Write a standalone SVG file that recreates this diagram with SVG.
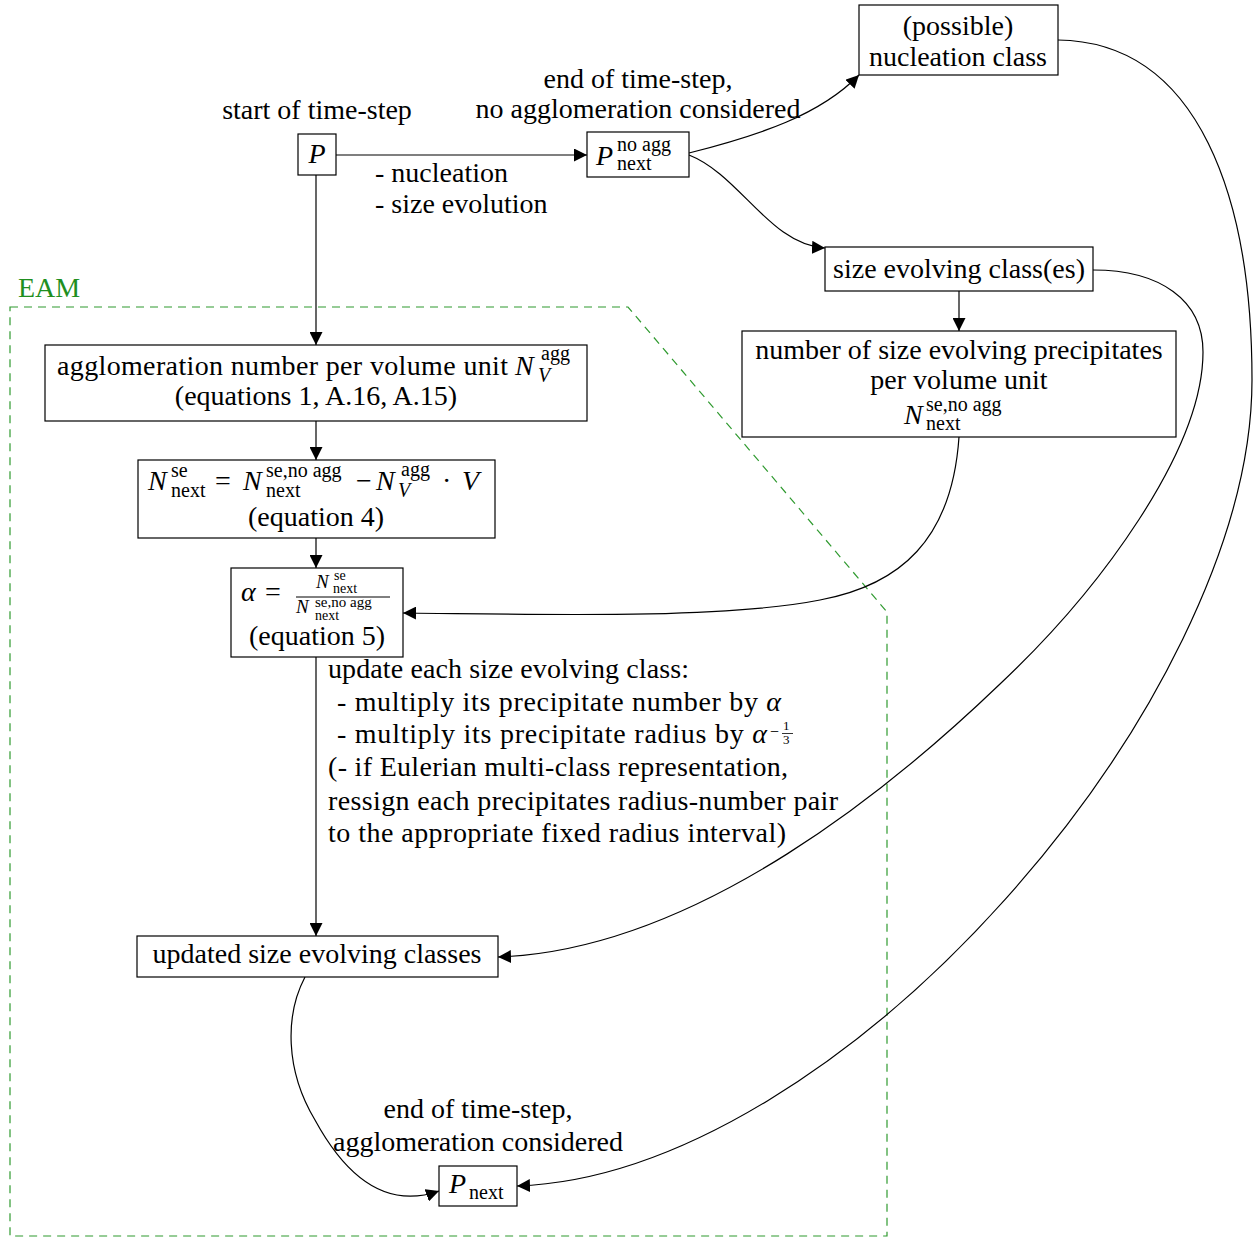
<svg xmlns="http://www.w3.org/2000/svg" width="1253" height="1245" viewBox="0 0 1253 1245">
<defs>
<style>
text{font-family:"Liberation Serif","Times New Roman",serif;fill:#000}
.t{font-size:28px}
.m{font-size:28px;font-style:italic}
.s{font-size:20px}
.si{font-size:20px;font-style:italic}
.fm{font-size:19px;font-style:italic}
.ss{font-size:14px}
.sd{font-size:15px}
.c{text-anchor:middle}
.box{fill:#fff;stroke:#000;stroke-width:1.2}
.edge{fill:none;stroke:#000;stroke-width:1.2}
.eam{fill:none;stroke:#2f9a2f;stroke-width:1.2;stroke-dasharray:8 6}
</style>
<marker id="ah" viewBox="0 0 13 13" markerWidth="13" markerHeight="13" refX="13" refY="6.5" orient="auto" markerUnits="userSpaceOnUse"><path d="M0,0 L13,6.5 L0,13 z" fill="#000"/></marker>
</defs>
<rect x="0" y="0" width="1253" height="1245" fill="#fff"/>

<g id="eam">
<path class="eam" d="M10,307 L628,307 L887,612 L887,1236 L10,1236 Z"/>
<text x="18" y="297" class="t" style="fill:#1f8f1f">EAM</text>
</g>

<g id="connectors">
<path class="edge" d="M336,155 L587,155" marker-end="url(#ah)"/>
<path class="edge" d="M316,175 L316,345" marker-end="url(#ah)"/>
<path class="edge" d="M316,421 L316,460" marker-end="url(#ah)"/>
<path class="edge" d="M316,538 L316,568" marker-end="url(#ah)"/>
<path class="edge" d="M316,657 L316,936" marker-end="url(#ah)"/>
<path class="edge" d="M689,153 C760,135 820,115 859,75" marker-end="url(#ah)"/>
<path class="edge" d="M689,155 C740,175 770,245 825,248" marker-end="url(#ah)"/>
<path class="edge" d="M959,291 L959,331" marker-end="url(#ah)"/>
<path class="edge" d="M959,437 C952,540 900,585 820,600 C720,620 520,614 403,613" marker-end="url(#ah)"/>
<path class="edge" d="M1093,270 C1160,270 1203,300 1203,352 C1203,450 1100,590 1000,684 C900,780 700,950 498,957" marker-end="url(#ah)"/>
<path class="edge" d="M1058,40 C1200,42 1252,200 1252,380 C1252,700 840,1175 517,1186" marker-end="url(#ah)"/>
<path class="edge" d="M305,977 C285,1015 285,1070 315,1120 C345,1175 385,1210 439,1191" marker-end="url(#ah)"/>
<text x="375" y="182" class="t">- nucleation</text>
<text x="375" y="213" class="t">- size evolution</text>
<text x="328" y="678" class="t" textLength="361">update each size evolving class:</text>
<text x="337" y="711" class="t" textLength="444"> - multiply its precipitate number by <tspan class="m">α</tspan></text>
<text x="337" y="743" class="t" textLength="430"> - multiply its precipitate radius by <tspan class="m">α</tspan></text>
<text x="770" y="737" style="font-size:16px">−</text>
<text x="783" y="730" style="font-size:13px">1</text>
<line x1="782" y1="733.5" x2="793" y2="733.5" stroke="#000" stroke-width="0.8"/>
<text x="783" y="744" style="font-size:13px">3</text>
<text x="328" y="776" class="t" textLength="460">(- if Eulerian multi-class representation,</text>
<text x="328" y="810" class="t" textLength="510">ressign each precipitates radius-number pair</text>
<text x="328" y="842" class="t" textLength="458">to the appropriate fixed radius interval)</text>
</g>

<g id="node-P">
<text x="317" y="119" class="t c">start of time-step</text>
<rect class="box" x="298" y="134" width="38" height="41"/>
<text x="317" y="163" class="m c">P</text>
</g>

<g id="node-Pnoagg">
<text x="638" y="88" class="t c">end of time-step,</text>
<text x="638" y="118" class="t c">no agglomeration considered</text>
<rect class="box" x="587" y="132" width="102" height="45"/>
<text x="596" y="165" class="m">P</text>
<text x="617" y="151" class="s">no agg</text>
<text x="617" y="170" class="s">next</text>
</g>

<g id="node-nucleation">
<rect class="box" x="859" y="5" width="199" height="70"/>
<text x="958" y="35" class="t c">(possible)</text>
<text x="958" y="66" class="t c">nucleation class</text>
</g>

<g id="node-se">
<rect class="box" x="825" y="247" width="268" height="44"/>
<text x="959" y="278" class="t c">size evolving class(es)</text>
</g>

<g id="node-number">
<rect class="box" x="742" y="331" width="434" height="106"/>
<text x="959" y="359" class="t c">number of size evolving precipitates</text>
<text x="959" y="389" class="t c">per volume unit</text>
<text x="904" y="424" class="m">N</text>
<text x="926" y="411" class="s">se,no agg</text>
<text x="926" y="430" class="s">next</text>
</g>

<g id="node-agg">
<rect class="box" x="45" y="345" width="542" height="76"/>
<text x="57" y="375" class="t" textLength="451">agglomeration number per volume unit</text>
<text x="515" y="375" class="m">N</text>
<text x="541" y="360" class="s">agg</text>
<text x="538" y="382" class="si">V</text>
<text x="316" y="405" class="t c">(equations 1, A.16, A.15)</text>
</g>

<g id="node-eq4">
<rect class="box" x="138" y="460" width="357" height="78"/>
<text x="148" y="490" class="m">N</text>
<text x="171" y="477" class="s">se</text>
<text x="171" y="497" class="s">next</text>
<text x="215" y="490" class="t">=</text>
<text x="243" y="490" class="m">N</text>
<text x="266" y="477" class="s">se,no agg</text>
<text x="266" y="497" class="s">next</text>
<text x="356" y="490" class="t">−</text>
<text x="376" y="490" class="m">N</text>
<text x="401" y="476" class="s">agg</text>
<text x="398" y="497" class="si">V</text>
<text x="442" y="490" class="t">·</text>
<text x="462" y="490" class="m">V</text>
<text x="316" y="526" class="t c">(equation 4)</text>
</g>

<g id="node-alpha">
<rect class="box" x="231" y="568" width="172" height="89"/>
<text x="241" y="601" class="m">α</text>
<text x="265" y="601" class="t">=</text>
<line x1="296" y1="597" x2="390" y2="597" stroke="#000" stroke-width="1"/>
<text x="316" y="588" class="fm">N</text>
<text x="334" y="580" class="ss">se</text>
<text x="333" y="593" class="ss">next</text>
<text x="296" y="613" class="fm">N</text>
<text x="315" y="607" class="sd">se,no agg</text>
<text x="315" y="620" class="ss">next</text>
<text x="317" y="645" class="t c">(equation 5)</text>
</g>

<g id="node-updated">
<rect class="box" x="137" y="936" width="361" height="41"/>
<text x="317" y="963" class="t c">updated size evolving classes</text>
</g>

<g id="node-Pnext">
<text x="478" y="1118" class="t c">end of time-step,</text>
<text x="478" y="1151" class="t c">agglomeration considered</text>
<rect class="box" x="439" y="1166" width="78" height="40"/>
<text x="449" y="1193" class="m">P</text>
<text x="469" y="1199" class="s">next</text>
</g>
</svg>
